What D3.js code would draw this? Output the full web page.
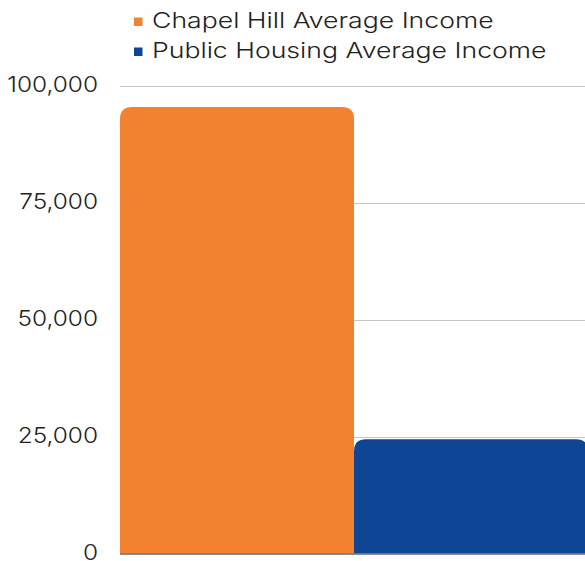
<!DOCTYPE html>
<html>
<head>
<meta charset="utf-8">
<script src="https://cdn.jsdelivr.net/npm/d3@7"></script>
<style>
  body { margin: 0; background: #fff; }
  svg { display: block; }
</style>
</head>
<body>
<div id="chart"></div>
<script>
// Average income comparison, one bar per series
const seriesNames = ['Chapel Hill Average Income', 'Public Housing Average Income'];
const seriesValues = [95400, 24400];
const seriesColors = ['#f28130', '#0f4595'];
const yTicks = [0, 25000, 50000, 75000, 100000];

const width = 585;
const height = 561;
const margin = { top: 85.5, right: -3, bottom: 7.5, left: 120 };
const fontFamily = 'Inter, "Open Sans", sans-serif';

const svg = d3.select('#chart')
  .append('svg')
  .attr('width', width)
  .attr('height', height);

const x = d3.scaleBand()
  .domain(seriesNames)
  .range([margin.left, width - margin.right])
  .padding(0);

const y = d3.scaleLinear()
  .domain([0, 100000])
  .range([height - margin.bottom, margin.top]);

// stretch text a bit horizontally, the original font is a wide geometric one
function widen(sel, factor) {
  sel.each(function() {
    const w = this.getComputedTextLength();
    d3.select(this)
      .attr('textLength', w * factor)
      .attr('lengthAdjust', 'spacingAndGlyphs');
  });
}

// gridlines
svg.append('g')
  .selectAll('line')
  .data(yTicks.filter(d => d > 0))
  .join('line')
  .attr('x1', margin.left)
  .attr('x2', width)
  .attr('y1', d => Math.round(y(d)) + 0.5)
  .attr('y2', d => Math.round(y(d)) + 0.5)
  .attr('stroke', '#c6c6c6')
  .attr('stroke-width', 1.2);

// y axis labels
const yAxis = d3.axisLeft(y)
  .tickValues(yTicks)
  .tickFormat(d3.format(','))
  .tickSize(0)
  .tickPadding(22);

svg.append('g')
  .attr('transform', `translate(${margin.left}, 0)`)
  .call(yAxis)
  .call(g => g.select('.domain').remove())
  .call(g => g.selectAll('text')
    .attr('font-family', fontFamily)
    .attr('font-size', 22)
    .attr('font-weight', 300)
    .attr('fill', '#222')
    .attr('dy', '0.28em')
    .call(widen, 1.11));

// bars with rounded top corners
const r = 12;
function roundedTop(x0, y0, w, h) {
  const rr = Math.min(r, h, w / 2);
  return `M${x0},${y0 + h}V${y0 + rr}Q${x0},${y0} ${x0 + rr},${y0}` +
    `H${x0 + w - rr}Q${x0 + w},${y0} ${x0 + w},${y0 + rr}V${y0 + h}Z`;
}

svg.append('g')
  .selectAll('path')
  .data(seriesNames)
  .join('path')
  .attr('d', (d, i) => roundedTop(x(d), y(seriesValues[i]), x.bandwidth(), y(0) - y(seriesValues[i])))
  .attr('fill', (d, i) => seriesColors[i]);

// baseline
svg.append('line')
  .attr('x1', margin.left)
  .attr('x2', width)
  .attr('y1', y(0) + 0.5)
  .attr('y2', y(0) + 0.5)
  .attr('stroke', '#666')
  .attr('stroke-width', 1.5);

// legend
const legend = svg.append('g')
  .attr('transform', 'translate(134, 17.5)');

const item = legend.selectAll('g')
  .data(seriesNames)
  .join('g')
  .attr('transform', (d, i) => `translate(0, ${i * 30})`);

item.append('rect')
  .attr('width', 8.5)
  .attr('height', 8.5)
  .attr('fill', (d, i) => seriesColors[i]);

item.append('text')
  .attr('x', 18)
  .attr('y', 10)
  .attr('font-family', fontFamily)
  .attr('font-size', 22)
  .attr('font-weight', 300)
  .attr('fill', '#222')
  .text(d => d)
  .call(widen, 1.21);
</script>
</body>
</html>
